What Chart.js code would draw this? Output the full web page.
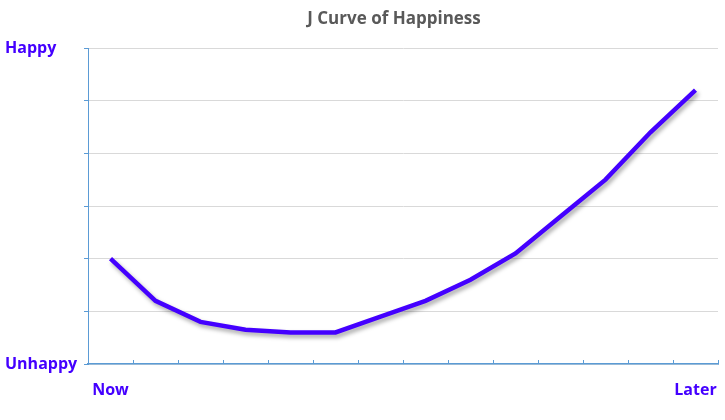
<!DOCTYPE html>
<html>
<head>
<meta charset="utf-8">
<title>J Curve of Happiness</title>
<script src="https://cdn.jsdelivr.net/npm/chart.js@4"></script>
<style>
  body { margin: 0; background: #fff; }
</style>
</head>
<body>
<canvas id="jCurve" width="725" height="420"></canvas>
<script>
// Data (0 = Unhappy, 6 = Happy)
const steps = ['Now', '', '', '', '', '', '', '', '', '', '', '', '', 'Later'];
const happiness = [2.0, 1.2, 0.8, 0.65, 0.6, 0.6, 0.9, 1.2, 1.6, 2.1, 2.8, 3.5, 4.4, 5.2];
const yLabels = { 0: 'Unhappy', 6: 'Happy' };

const lineColor = '#4400ff';
const axisColor = '#5b9bd5';
const gridColor = '#d9d9d9';
const labelFont = { family: 'Open Sans', size: 16, weight: 'bold' };

// drop shadow under the line
const shadowPlugin = {
    id: 'lineShadow',
    beforeDatasetsDraw(chart) {
        const ctx = chart.ctx;
        ctx.save();
        ctx.shadowColor = 'rgba(0, 0, 0, 0.35)';
        ctx.shadowBlur = 4;
        ctx.shadowOffsetX = 2;
        ctx.shadowOffsetY = 3;
    },
    afterDatasetsDraw(chart) {
        chart.ctx.restore();
    }
};

// title sits a bit right of the canvas centre
const titlePlugin = {
    id: 'offsetTitle',
    afterDraw(chart) {
        const ctx = chart.ctx;
        ctx.save();
        ctx.font = 'bold 17px "Open Sans"';
        ctx.fillStyle = '#595959';
        ctx.textAlign = 'center';
        ctx.textBaseline = 'middle';
        ctx.fillText('J Curve of Happiness', 394, 19);
        ctx.restore();
    }
};

new Chart(document.getElementById('jCurve').getContext('2d'), {
    type: 'line',
    data: {
        labels: steps,
        datasets: [{
            label: 'Happiness',
            data: happiness,
            borderColor: lineColor,
            borderWidth: 4.5,
            pointRadius: 0,
            tension: 0,
            fill: false
        }]
    },
    options: {
        responsive: false,
        animation: false,
        layout: { padding: { top: 48, left: 5, right: 7, bottom: 0 } },
        plugins: {
            legend: { display: false },
            tooltip: { enabled: false }
        },
        scales: {
            x: {
                offset: true,
                grid: {
                    offset: true,
                    drawOnChartArea: false,
                    color: axisColor,
                    tickLength: -4
                },
                border: { color: axisColor, width: 1.5 },
                ticks: {
                    color: lineColor,
                    font: labelFont,
                    padding: 21,
                    maxRotation: 0,
                    autoSkip: false
                },
                afterFit(scale) {
                    scale.height = 56;
                    scale.paddingLeft = 0;
                    scale.paddingRight = 0;
                }
            },
            y: {
                min: 0,
                max: 6,
                ticks: {
                    stepSize: 1,
                    color: lineColor,
                    font: labelFont,
                    crossAlign: 'far',
                    padding: 8,
                    callback: v => yLabels[v] || ''
                },
                grid: { color: gridColor, tickColor: axisColor, tickLength: 4 },
                border: { color: axisColor, width: 1 },
                afterFit(scale) { scale.width = 83; }
            }
        }
    },
    plugins: [shadowPlugin, titlePlugin]
});
</script>
</body>
</html>
